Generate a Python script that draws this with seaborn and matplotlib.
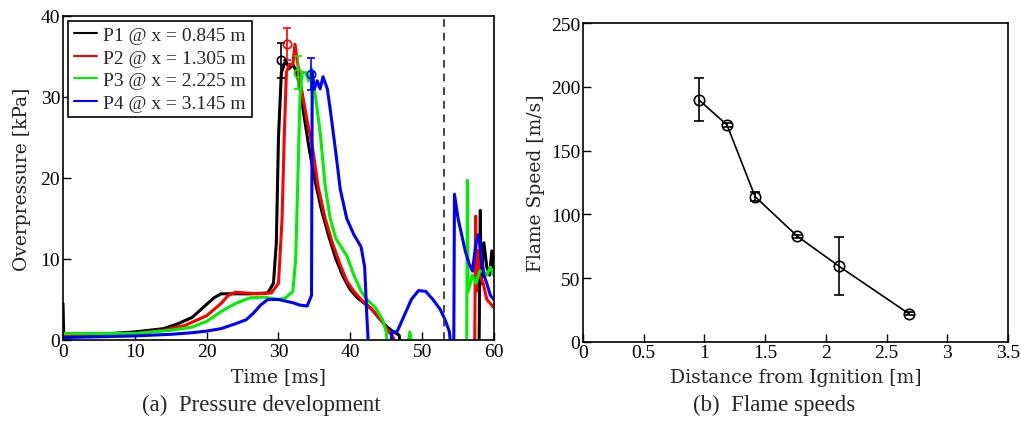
import numpy as np
import pandas as pd
import matplotlib
matplotlib.use("Agg")
import matplotlib.pyplot as plt
import seaborn as sns

# ---------------- data: pressure traces ----------------
p1_t = [0, 0.1, 0.2, 5, 10, 14, 16, 18, 19, 20, 21, 22, 23, 26, 28.5, 29.3, 29.7, 30.0, 30.4, 31.0,
        31.5, 32.0, 32.5, 33.0, 33.5, 34.2, 35, 36, 37, 38, 39, 40, 41, 42, 43, 44, 45, 46, 46.8,
        47.3, 57.9, 58.0, 58.1, 58.2, 58.6, 59.0, 59.4, 59.7, 60]
p1_p = [4.5, 0.6, 0.6, 0.7, 1.0, 1.4, 2.0, 2.8, 3.6, 4.4, 5.2, 5.7, 5.7, 5.7, 5.8, 7.0, 12, 25, 33, 34.5,
        33.5, 34, 33.2, 31, 28, 24, 20, 16, 12.8, 10, 7.8, 6.2, 5.2, 4.5, 3.8, 2.7, 1.7, 1.0, 0.6,
        -3, -3, 6, 16, 7, 12, 9, 8, 11, 8]

p2_t = [0, 5, 10, 14, 17, 20, 22, 23, 24, 27, 29, 30, 30.5, 30.8, 31.1, 31.5, 32, 32.3, 32.7, 33.2,
        34, 34.7, 35.5, 36.5, 37.5, 38.5, 39.5, 40.5, 41.5, 42.5, 43.5, 44.5, 45.2, 46, 46.5,
        57.3, 57.45, 57.55, 57.7, 58, 58.5, 59, 59.5, 60]
p2_p = [0.5, 0.6, 0.8, 1.2, 1.8, 3.0, 4.5, 5.5, 5.9, 5.7, 5.8, 7, 15, 25, 33, 34, 34, 36.5, 34, 31,
        27, 24, 19, 15, 12, 9.5, 7.3, 6, 5, 4.2, 3.3, 2.2, 1.2, 0.3, -3,
        -3, 15.3, 6, 11, 8, 7, 5, 4.5, 4]

p3_t = [0, 10, 15, 18, 20, 22, 24, 26, 28, 30, 31, 32, 32.4, 32.7, 33.0, 33.3, 33.8, 34.2, 34.6, 35.0,
        35.8, 36.5, 37.2, 38, 39.5, 40.5, 41.5, 42.3, 43.5, 44.5, 45, 45.3, 47.8, 48.3, 48.8,
        56.2, 56.3, 56.4, 57, 57.5, 58, 58.5, 59, 59.5, 60]
p3_p = [0.8, 0.8, 1.2, 1.6, 2.3, 3.5, 4.5, 5.2, 5.3, 5.0, 5.2, 6, 10, 20, 30, 33, 33, 32, 33.5, 31,
        25.7, 19, 15, 12.5, 10.4, 8, 6, 5, 4, 2.5, 1, -2, -2, 1, -2,
        -2, 19.7, 6, 8, 7, 8.5, 8.5, 8, 9, 8]

p4_t = [0, 5, 10, 15, 18, 20, 22, 24, 25.5, 26.5, 27.5, 28.5, 30, 31, 32, 33, 34, 34.6, 34.7, 35.0,
        35.4, 35.8, 36.2, 36.8, 37.2, 38.0, 38.6, 39.5, 40.5, 41.5, 42.0, 42.3, 42.6, 45.5, 45.8,
        46.5, 47.5, 48.5, 49.5, 50.5, 51.5, 52.5, 53.2, 53.8, 54.1, 54.4, 54.5, 55, 55.5, 56,
        56.5, 57, 57.5, 57.8, 58.2, 58.6, 59, 59.5, 60]
p4_p = [0.3, 0.4, 0.5, 0.7, 0.9, 1.1, 1.4, 2.0, 2.5, 3.3, 4.3, 5.0, 5.0, 4.8, 4.6, 4.3, 4.2, 5.5, 33, 31,
        32, 31, 32.5, 31, 28.5, 23, 18.6, 15, 13, 11.5, 9, 3, -2, -2, 1,
        1, 3, 5, 6.1, 6.0, 5, 3.8, 2.5, 1, -2, -2, 18, 15, 13, 11,
        9.5, 8.5, 12, 13, 11, 8, 7, 5.5, 5]

series_names = ["P1 @ x = 0.845 m", "P2 @ x = 1.305 m", "P3 @ x = 2.225 m", "P4 @ x = 3.145 m"]
series_colors = ["#000000", "#ff0000", "#00ee00", "#0000ff"]

# peak markers with error bars
peak_t = [30.4, 31.2, 32.7, 34.5]
peak_p = [34.5, 36.5, 33.0, 32.8]
peak_err = [2.2, 2.0, 2.0, 2.0]

end_time = 53.0

# ---------------- data: flame speeds ----------------
dist = [0.955, 1.186, 1.417, 1.766, 2.109, 2.683]
speed = [189.8, 170.2, 113.9, 82.7, 59.2, 22.0]
speed_err = [16.9, 1.5, 3.7, 1.0, 22.8, 1.0]

# ---------------- style ----------------
sns.set_style("ticks")
plt.rcParams["font.family"] = ["Liberation Serif", "DejaVu Serif"]
plt.rcParams["mathtext.fontset"] = "stix"

fig = plt.figure(figsize=(10.21, 4.35), dpi=100)
ax1 = fig.add_axes([0.0617, 0.2161, 0.4221, 0.745])
ax2 = fig.add_axes([0.571, 0.2122, 0.4163, 0.732])

# long-form frame for traces
frames = []
for name, t, p in zip(series_names, [p1_t, p2_t, p3_t, p4_t], [p1_p, p2_p, p3_p, p4_p]):
    frames.append(pd.DataFrame({"Time": t, "Pressure": p, "Sensor": name}))
df = pd.concat(frames, ignore_index=True)

sns.lineplot(data=df, x="Time", y="Pressure", hue="Sensor", palette=series_colors,
             hue_order=series_names, estimator=None, sort=False, linewidth=2.2, ax=ax1)

for c, t, p, e in zip(series_colors, peak_t, peak_p, peak_err):
    ax1.errorbar(t, p, yerr=e, fmt="o", mfc="none", mec=c, ecolor=c, ms=6, mew=1.2,
                 capsize=3, elinewidth=1.2, zorder=5)

ax1.axvline(end_time, color="#444444", linestyle=(0, (4, 3)), linewidth=1.4)

ax1.set_xlim(0, 60)
ax1.set_ylim(0, 40)
ax1.set_xticks(range(0, 61, 10))
ax1.set_yticks(range(0, 41, 10))
ax1.set_xlabel("Time [ms]", family="DejaVu Serif", fontsize=13.5, color="#222222", labelpad=5)
ax1.set_ylabel("Overpressure [kPa]", family="DejaVu Serif", fontsize=13.5, color="#222222", labelpad=7)

handles, labels = ax1.get_legend_handles_labels()
leg = ax1.legend(handles=handles, labels=labels, loc="upper left", fontsize=14,
                 frameon=True, fancybox=False, framealpha=1, edgecolor="black",
                 handlelength=1.2, handletextpad=0.3, borderpad=0.3, labelspacing=0.25,
                 borderaxespad=0.25)
leg.get_frame().set_linewidth(1.2)
for h in leg.get_lines():
    h.set_linewidth(1.5)

# flame speed
fs = pd.DataFrame({"Distance": dist, "Speed": speed})
sns.lineplot(data=fs, x="Distance", y="Speed", color="black", linewidth=1.2,
             marker="o", markersize=7.5, markerfacecolor="none", markeredgecolor="black",
             markeredgewidth=1.2, ax=ax2)
ax2.errorbar(dist, speed, yerr=speed_err, fmt="none", ecolor="black", capsize=3.5,
             elinewidth=1.2, capthick=1.2)

ax2.set_xlim(0, 3.5)
ax2.set_ylim(0, 250)
ax2.set_xticks([0, 0.5, 1, 1.5, 2, 2.5, 3, 3.5])
ax2.set_xticklabels(["0", "0.5", "1", "1.5", "2", "2.5", "3", "3.5"])
ax2.set_yticks(range(0, 251, 50))
ax2.set_xlabel("Distance from Ignition [m]", family="DejaVu Serif", fontsize=13.5,
               color="#222222", labelpad=5)
ax2.set_ylabel("Flame Speed [m/s]", family="DejaVu Serif", fontsize=13.5,
               color="#222222", labelpad=4)

for ax in (ax1, ax2):
    ax.tick_params(direction="in", length=6, width=1, labelsize=14, pad=2, colors="black")
    for s in ax.spines.values():
        s.set_visible(True)
        s.set_color("black")
        s.set_linewidth(1.2)

fig.text(0.256, 0.069, "(a)  Pressure development", ha="center", va="center", fontsize=16.5)
fig.text(0.758, 0.069, "(b)  Flame speeds", ha="center", va="center", fontsize=16.5)

fig.savefig("out.png", dpi=100, facecolor="white")
